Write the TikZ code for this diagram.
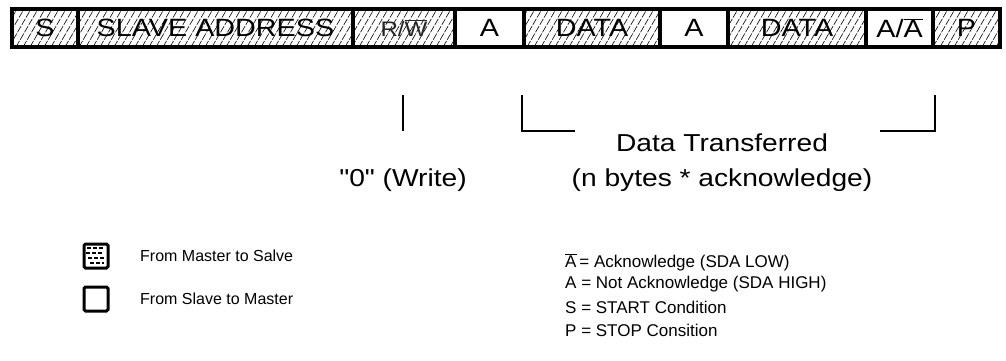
\documentclass[tikz,border=0pt]{standalone}
\usepackage{fontspec}
\setmainfont{Liberation Sans}
\newfontfamily\barfont[FakeStretch=1.15]{Liberation Sans}
\begin{document}
\begin{tikzpicture}[x=1pt,y=-1pt,
  cell/.style={draw, line width=3.5pt, minimum height=38pt, inner sep=0pt,
               font=\barfont\fontsize{25}{28}\selectfont},
  bigtext/.style={font=\barfont\fontsize{24.5}{28}\selectfont, inner sep=0pt},
  smalltext/.style={font=\fontsize{16}{18}\selectfont, anchor=west, inner sep=0pt},
  keytext/.style={font=\fontsize{17}{19}\selectfont, anchor=west, inner sep=0pt},
  hatch/.style={line width=0.6pt, dash pattern=on 7pt off 1.5pt},
  callout/.style={line width=2pt},
  legbox/.style={draw, line width=3pt, rounded corners=1.5pt, minimum width=24pt, minimum height=24pt, inner sep=0pt}]
\fill[white] (0,0) rectangle (1006,360);
\useasboundingbox (0,0) rectangle (1006,360);
% hatching of master-driven fields
\begin{scope}
  \clip (12,9) rectangle (455,47) (524,9) rectangle (660,47)
        (728,9) rectangle (866,47) (933,9) rectangle (1000,47);
  \foreach \x in {-40,-33,...,1010} \draw[hatch] (\x,47) -- ++(22,-38);
\end{scope}
% fields
\node[cell, minimum width=66pt]  (s)    at (45,28)    {S};
\node[cell, minimum width=275pt] (addr) at (215.5,28) {SLAVE ADDRESS};
\node[cell, minimum width=102pt, text=black!85, font=\barfont\fontsize{21}{24}\selectfont] (rw) at (404,28) {R/$\overline{\hbox{W}}$};
\node[cell, minimum width=69pt]  (a1)   at (489.5,28) {A};
\node[cell, minimum width=136pt] (d1)   at (592,28)   {DATA};
\node[cell, minimum width=68pt]  (a2)   at (694,28)   {A};
\node[cell, minimum width=138pt] (d2)   at (797,28)   {DATA};
\node[cell, minimum width=67pt]  (a3)   at (899.5,28) {A/$\overline{\hbox{A}}$};
\node[cell, minimum width=67pt]  (p)    at (966.5,28) {P};
% callouts
\coordinate (rwtop) at (403,95);
\coordinate (rwbot) at (403,131);
\draw[callout] (rwtop) -- (rwbot);
\coordinate (ltop) at (522,95);
\coordinate (lbot) at (522,131);
\coordinate (lend) at (575,131);
\draw[callout] (ltop) -- (lbot) -- (lend);
\coordinate (rtop) at (935,95);
\coordinate (rbot) at (935,131);
\coordinate (rend) at (880,131);
\draw[callout] (rtop) -- (rbot) -- (rend);
\node[bigtext] (write) at (403,180) {"0" (Write)};
\node[bigtext] (dt) at (722,143) {Data Transferred};
\node[bigtext] (nb) at (722,180) {(n bytes * acknowledge)};
% legend
\node[legbox] (lm) at (96,256) {};
\foreach \yy/\a/\b in {248/87/104, 253/86/102, 258/88/105, 263/90/104}
  \draw[line width=1.5pt, dash pattern=on 4pt off 2pt] (\a,\yy) -- (\b,\yy);
\node[smalltext] (lmt) at (140,256) {From Master to Salve};
\node[legbox] (ls) at (96,299) {};
\node[smalltext] (lst) at (140,299) {From Slave to Master};
\node[keytext] (k1) at (565,262) {$\overline{\hbox{A}}$\,= Acknowledge (SDA LOW)};
\node[keytext] (k2) at (565,284) {A = Not Acknowledge (SDA HIGH)};
\node[keytext] (k3) at (565,307) {S = START Condition};
\node[keytext] (k4) at (565,330) {P = STOP Consition};
\end{tikzpicture}
\end{document}
